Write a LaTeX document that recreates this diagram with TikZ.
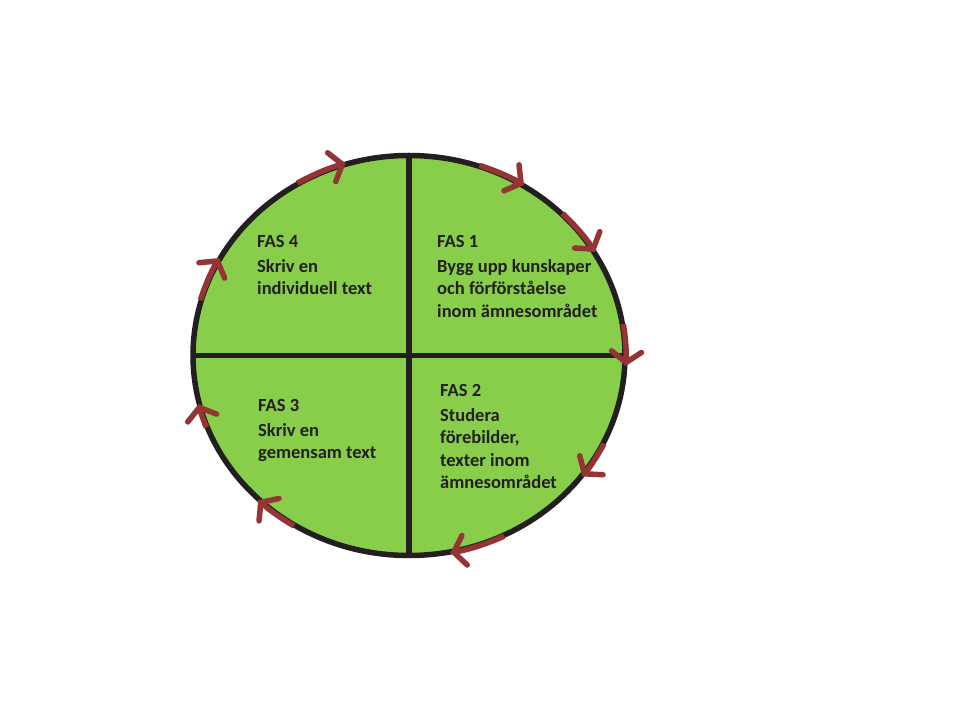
\documentclass[tikz,border=0pt]{standalone}
\usepackage{fontspec}
\setmainfont{Carlito}
\usetikzlibrary{arrows.meta}

\definecolor{fasgreen}{RGB}{136,206,74}
\definecolor{pilrod}{RGB}{148,52,52}
\definecolor{kant}{RGB}{35,31,32}

\tikzset{
  fastext/.style={anchor=north west, inner sep=0pt, align=left,
    font=\fontsize{18.5pt}{22.3pt}\selectfont\bfseries, text=kant},
  pil/.style={pilrod, line width=5.5pt,
    -{Straight Barb[length=11pt,width=30pt,line cap=round]}}
}

\begin{document}
\begin{tikzpicture}[x=1pt,y=1pt]

\fill[white] (0,0) rectangle (960,720);
\useasboundingbox (0,0) rectangle (960,720);

% Cirkeln
\coordinate (mitt) at (409,364.5);
\fill[fasgreen] (mitt) ellipse [x radius=216pt, y radius=200pt];
\draw[kant, line width=5.5pt] (mitt) ++(0,200) -- ++(0,-400);
\draw[kant, line width=5.5pt] (mitt) ++(-216,0) -- ++(432,0);
\draw[kant, line width=5.5pt] (mitt) ellipse [x radius=216pt, y radius=200pt];

% Pilar
\foreach \a/\b in {
121/107, 71/58, 45/31, 9/-3,
-26/-37, -64/-79, 238/226, 201/194, 164/151
}
{
\draw[pil] (mitt) ++(\a:217pt and 201pt)
  arc[start angle=\a, end angle=\b, x radius=217pt, y radius=201pt];
}

% Faser
\node[fastext] (fas4) at (257,485) {FAS 4\\[3pt]Skriv en\\individuell text};
\node[fastext] (fas1) at (437,485) {FAS 1\\[3pt]Bygg upp kunskaper\\och förförståelse\\inom ämnesområdet};
\node[fastext] (fas2) at (440,336) {FAS 2\\[3pt]Studera\\förebilder,\\texter inom\\ämnesområdet};
\node[fastext] (fas3) at (258,321) {FAS 3\\[3pt]Skriv en\\gemensam text};

\end{tikzpicture}
\end{document}
